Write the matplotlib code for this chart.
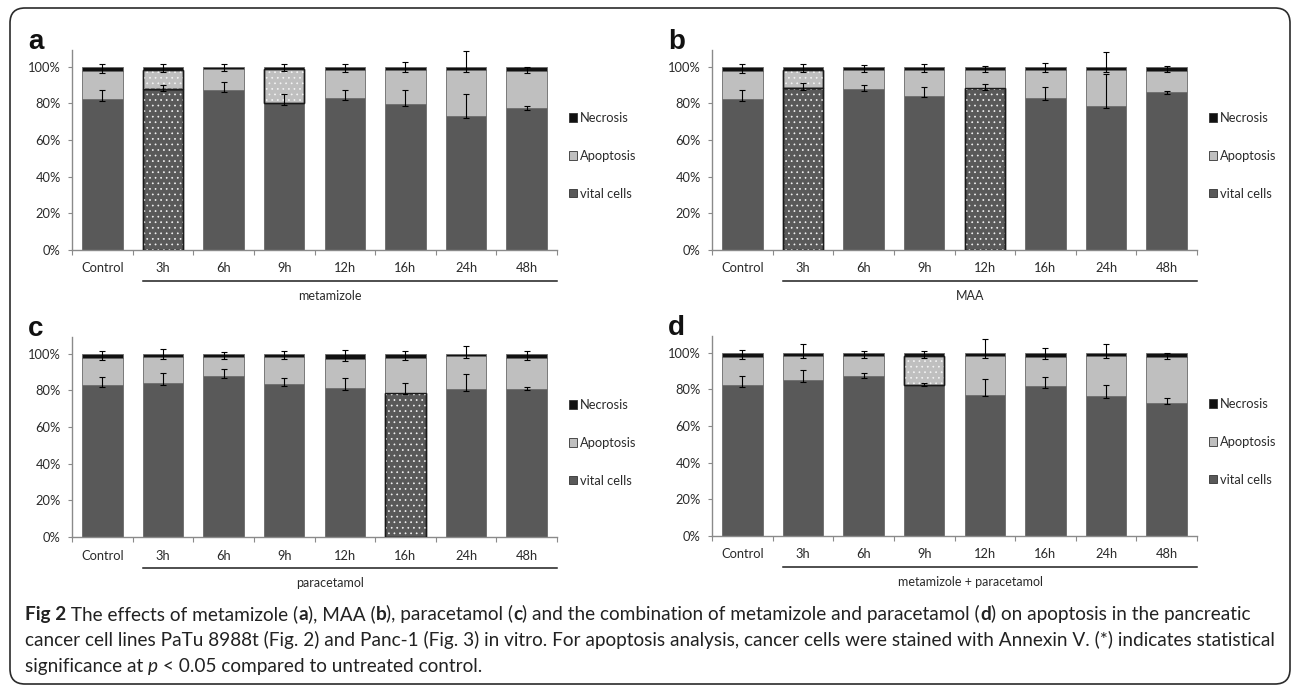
import matplotlib

matplotlib.use("Agg")
import matplotlib.pyplot as plt
import numpy as np
from matplotlib import font_manager
from matplotlib.patches import FancyBboxPatch, Patch

W, H, DPI = 1292, 687, 100

CATEGORIES = ["Control", "3h", "6h", "9h", "12h", "16h", "24h", "48h"]
SEGMENT_LABELS = ["Necrosis", "Apoptosis", "vital cells"]

# (a) metamizole
MET_VITAL = [82.4, 87.8, 87.3, 80.0, 82.7, 79.6, 73.1, 77.3]
MET_APOP = [15.2, 10.4, 11.2, 18.5, 15.5, 18.6, 24.9, 20.3]
MET_NECR = [2.4, 1.8, 1.5, 1.5, 1.8, 1.8, 2.0, 2.4]
MET_VITAL_ERR = [4.9, 2.2, 4.2, 4.9, 4.4, 7.5, 11.8, 1.4]
MET_APOP_ERR = [3.7, 3.3, 3.0, 3.1, 3.4, 4.5, 10.2, 2.4]
MET_SIG_VITAL = ["3h"]
MET_SIG_APOP = ["3h", "9h"]

# (b) MAA
MAA_VITAL = [82.4, 88.2, 87.6, 84.2, 88.2, 82.7, 78.5, 86.0]
MAA_APOP = [15.2, 10.0, 10.6, 14.0, 10.0, 15.5, 19.7, 11.8]
MAA_NECR = [2.4, 1.8, 1.8, 1.8, 1.8, 1.8, 1.8, 2.2]
MAA_VITAL_ERR = [4.9, 2.7, 2.4, 4.5, 2.2, 6.0, 17.3, 0.9]
MAA_APOP_ERR = [3.7, 3.1, 2.7, 3.1, 2.3, 3.6, 9.6, 2.7]
MAA_SIG_VITAL = ["3h", "12h"]
MAA_SIG_APOP = ["3h"]

# (c) paracetamol
PAR_VITAL = [82.7, 84.0, 87.6, 83.3, 81.3, 78.7, 80.4, 80.9]
PAR_APOP = [14.9, 14.2, 10.6, 14.9, 15.7, 18.9, 18.1, 16.7]
PAR_NECR = [2.4, 1.8, 1.8, 1.8, 3.0, 2.4, 1.5, 2.4]
PAR_VITAL_ERR = [4.6, 5.6, 3.7, 3.4, 5.1, 5.5, 8.7, 0.9]
PAR_APOP_ERR = [3.9, 4.2, 2.7, 3.3, 4.8, 3.9, 5.7, 3.9]
PAR_SIG_VITAL = ["16h"]
PAR_SIG_APOP = []

# (d) metamizole + paracetamol
COM_VITAL = [82.2, 84.9, 87.1, 82.5, 77.1, 81.8, 76.4, 72.7]
COM_APOP = [15.4, 13.1, 10.9, 15.5, 20.9, 15.8, 21.6, 24.9]
COM_NECR = [2.4, 2.0, 2.0, 2.0, 2.0, 2.4, 2.0, 2.4]
COM_VITAL_ERR = [5.1, 5.8, 2.0, 1.1, 8.7, 4.9, 6.1, 2.6]
COM_APOP_ERR = [3.7, 6.4, 2.9, 2.7, 9.6, 4.9, 6.4, 2.4]
COM_SIG_VITAL = []
COM_SIG_APOP = ["9h"]

# the lower whisker sits just under each segment top
ERR_LOW = 1.0

VITAL_COLOR = "#595959"
APOP_COLOR = "#bfbfbf"
NECR_COLOR = "#111111"
EDGE = "#6a6a6a"
DOT_EDGE = "#1a1a1a"
SPINE = "#8a8a8a"
TEXT = "#2a2a2a"
BAR_WIDTH = 0.67

installed = {f.name for f in font_manager.fontManager.ttflist}


def pick(*names):
    for name in names:
        if name in installed:
            return name
    return "DejaVu Sans"


CHART_FONT = pick("Lato", "Open Sans", "DejaVu Sans")
CAPTION_FONT = pick("Lato", "Open Sans", "DejaVu Sans")
LETTER_FONT = pick("Liberation Sans", "DejaVu Sans")

plt.rcParams["font.family"] = [CHART_FONT, "DejaVu Sans"]
plt.rcParams["hatch.linewidth"] = 0.5


def fx(px):
    return px / W


def fy(py):
    return 1 - py / H


def draw_segment(ax, x, bottom, height, color, dotted):
    edges = [DOT_EDGE if d else EDGE for d in dotted]
    widths = [1.0 if d else 0.6 for d in dotted]
    ax.bar(x, height, BAR_WIDTH, bottom=bottom, color=color,
           edgecolor=edges, linewidth=widths, zorder=2)
    idx = np.flatnonzero(dotted)
    if len(idx):
        ax.bar(x[idx], height[idx], BAR_WIDTH, bottom=bottom[idx],
               facecolor="none", edgecolor="#f4f4f4", linewidth=0,
               hatch="...", zorder=3)
        ax.bar(x[idx], height[idx], BAR_WIDTH, bottom=bottom[idx],
               facecolor="none", edgecolor=DOT_EDGE, linewidth=1.0, zorder=4)


def draw_panel(fig, box, letter, drug, vital, apop, necr, vital_err, apop_err,
               sig_vital, sig_apop):
    left, right, zero_y = box
    height_px = 200
    ax = fig.add_axes([fx(left), fy(zero_y), (right - left) / W, height_px / H])
    x = np.arange(len(CATEGORIES))
    vital = np.asarray(vital, float)
    apop = np.asarray(apop, float)
    necr = np.asarray(necr, float)
    zeros = np.zeros_like(vital)

    draw_segment(ax, x, zeros, vital, VITAL_COLOR,
                 np.array([c in sig_vital for c in CATEGORIES]))
    draw_segment(ax, x, vital, apop, APOP_COLOR,
                 np.array([c in sig_apop for c in CATEGORIES]))
    draw_segment(ax, x, vital + apop, necr, NECR_COLOR,
                 np.zeros(len(x), bool))

    low = np.full(len(x), ERR_LOW)
    for tops, err in ((vital, vital_err), (vital + apop, apop_err)):
        ax.errorbar(x, tops, yerr=[low, err], fmt="none", ecolor="black",
                    elinewidth=0.8, capsize=2.0, capthick=0.8, zorder=5)

    ax.set_xlim(-0.5, len(x) - 0.5)
    ax.set_ylim(0, 109)
    ax.set_yticks(range(0, 101, 20))
    ax.set_yticklabels([f"{v}%" for v in range(0, 101, 20)])
    ax.set_xticks(x)
    ax.set_xticklabels(CATEGORIES)
    ax.set_xticks(np.arange(len(x) + 1) - 0.5, minor=True)
    for side in ("top", "right"):
        ax.spines[side].set_visible(False)
    for side in ("left", "bottom"):
        ax.spines[side].set_color(SPINE)
        ax.spines[side].set_linewidth(1.0)
    ax.tick_params(axis="y", length=3, width=0.8, color=SPINE, pad=5,
                   labelsize=9.3, labelcolor=TEXT)
    ax.tick_params(axis="x", which="major", length=0, pad=9,
                   labelsize=9.3, labelcolor=TEXT)
    ax.tick_params(axis="x", which="minor", length=3.6, width=0.8, color=SPINE)

    ax.plot([71 / (right - left), 1.0], [-31 / height_px] * 2,
            transform=ax.transAxes, clip_on=False, color="#1e1e1e", lw=1.1)
    ax.text(258 / (right - left), -46 / height_px, drug, transform=ax.transAxes,
            ha="center", va="center", fontsize=9, color=TEXT)

    handles = [Patch(facecolor=c, edgecolor="#333333", linewidth=0.6)
               for c in (NECR_COLOR, APOP_COLOR, VITAL_COLOR)]
    ax.legend(handles, SEGMENT_LABELS, loc="center left",
              bbox_to_anchor=((right + 12 - left) / (right - left), 94 / height_px),
              frameon=False, borderpad=0, borderaxespad=0,
              handlelength=0.62, handleheight=0.62, handletextpad=0.25,
              labelspacing=2.0, fontsize=9.3, labelcolor=TEXT)

    fig.text(fx(left - 44), fy(zero_y - 201), letter, fontsize=20,
             fontweight="bold", family=LETTER_FONT, va="baseline", color="#111111")
    return ax


def text_advance(fig, renderer, s, size, **kw):
    t = fig.text(0, 0, s + "|", fontsize=size, family=CAPTION_FONT, **kw)
    bar = fig.text(0, 0, "|", fontsize=size, family=CAPTION_FONT, **kw)
    w = t.get_window_extent(renderer).width - bar.get_window_extent(renderer).width
    t.remove()
    bar.remove()
    return w


def draw_runs(fig, renderer, x_px, base_y, runs, size):
    x = x_px
    for s, kw in runs:
        fig.text(fx(x), fy(base_y), s, fontsize=size, family=CAPTION_FONT,
                 va="baseline", color="#222222", **kw)
        x += text_advance(fig, renderer, s, size, **kw)
    return x - x_px


def main():
    fig = plt.figure(figsize=(W / DPI, H / DPI), dpi=DPI)

    draw_panel(fig, (72, 557, 250), "a", "metamizole", MET_VITAL, MET_APOP,
               MET_NECR, MET_VITAL_ERR, MET_APOP_ERR, MET_SIG_VITAL, MET_SIG_APOP)
    draw_panel(fig, (712, 1197, 250), "b", "MAA", MAA_VITAL, MAA_APOP,
               MAA_NECR, MAA_VITAL_ERR, MAA_APOP_ERR, MAA_SIG_VITAL, MAA_SIG_APOP)
    draw_panel(fig, (72, 557, 537), "c", "paracetamol", PAR_VITAL, PAR_APOP,
               PAR_NECR, PAR_VITAL_ERR, PAR_APOP_ERR, PAR_SIG_VITAL, PAR_SIG_APOP)
    draw_panel(fig, (712, 1197, 536), "d", "metamizole + paracetamol", COM_VITAL,
               COM_APOP, COM_NECR, COM_VITAL_ERR, COM_APOP_ERR, COM_SIG_VITAL,
               COM_SIG_APOP)

    B = {"fontweight": "bold"}
    N = {}
    line1 = [("Fig 2", B), (" The effects of metamizole (", N), ("a", B),
             ("), MAA (", N), ("b", B), ("), paracetamol (", N), ("c", B),
             (") and the combination of metamizole and paracetamol (", N),
             ("d", B), (") on apoptosis in the pancreatic", N)]
    line2 = [("cancer cell lines PaTu 8988t (Fig. 2) and Panc-1 (Fig. 3) in vitro. "
              "For apoptosis analysis, cancer cells were stained with Annexin V. "
              "(*) indicates statistical", N)]
    line3 = [("significance at ", N), ("p", {"fontstyle": "italic"}),
             (" < 0.05 compared to untreated control.", N)]

    # scale the caption so its two full lines end about where the reference's do
    renderer = fig.canvas.get_renderer()
    base = 14.0
    width1 = sum(text_advance(fig, renderer, s, base, **kw) for s, kw in line1)
    width2 = sum(text_advance(fig, renderer, s, base, **kw) for s, kw in line2)
    size = base * 0.5 * (1250 / width1 + 1233 / width2)
    for runs, y in ((line1, 620), (line2, 646), (line3, 672)):
        draw_runs(fig, renderer, 25, y, runs, size)

    frame = FancyBboxPatch((10 / DPI, 3 / DPI), 1280 / DPI, 676 / DPI,
                           boxstyle="round,pad=0,rounding_size=0.15",
                           transform=fig.dpi_scale_trans, fill=False,
                           edgecolor="#2b2b2b", linewidth=1.2)
    fig.patches.append(frame)

    fig.savefig("out.png", dpi=DPI)


if __name__ == "__main__":
    main()
